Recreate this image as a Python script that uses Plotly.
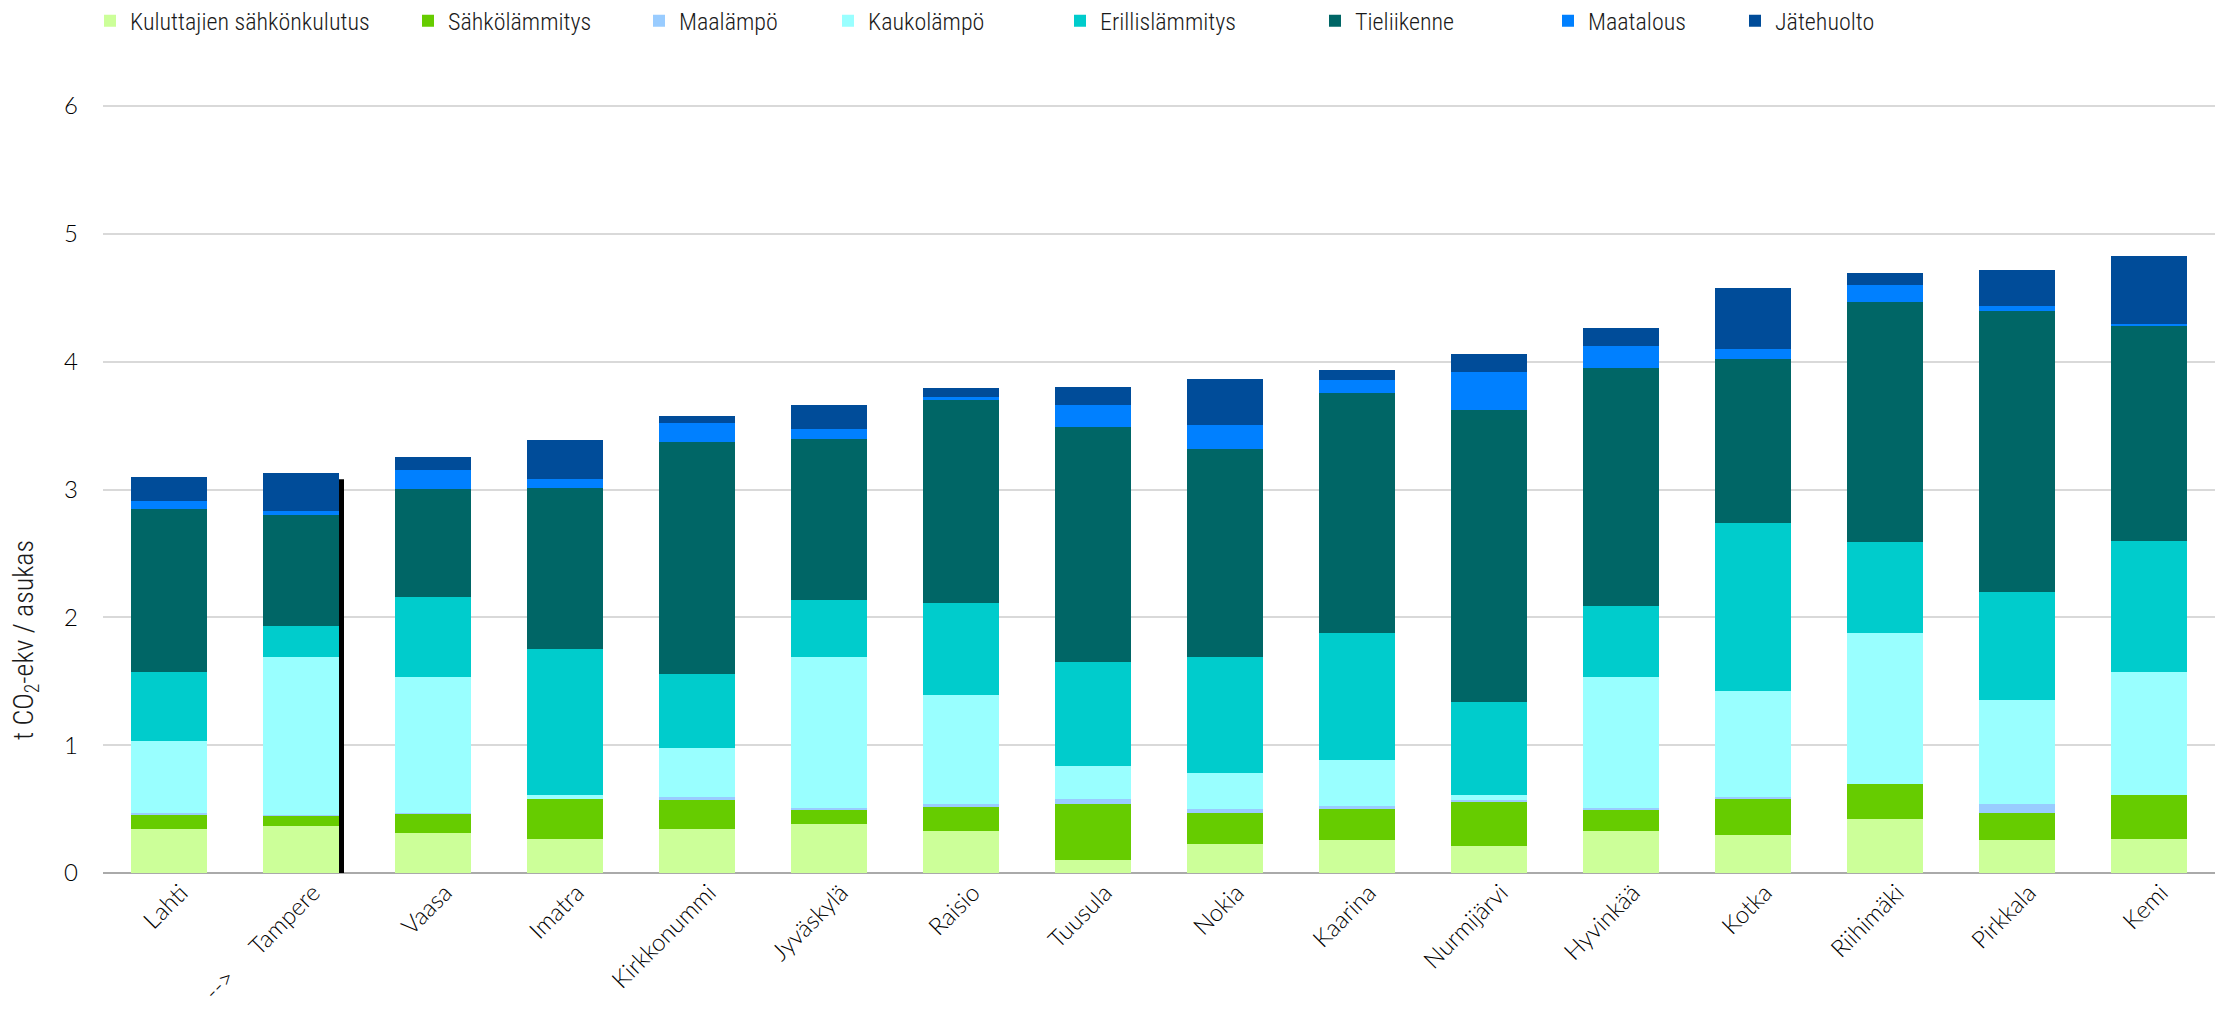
import plotly.graph_objects as go

# Municipalities, ordered by total emissions per resident
kunnat = ["Lahti", "-->     Tampere", "Vaasa", "Imatra", "Kirkkonummi", "Jyväskylä",
          "Raisio", "Tuusula", "Nokia", "Kaarina", "Nurmijärvi", "Hyvinkää",
          "Kotka", "Riihimäki", "Pirkkala", "Kemi"]

# Emission sectors (t CO2-ekv / asukas)
kuluttajien_sahkonkulutus = [0.345, 0.371, 0.310, 0.268, 0.348, 0.380, 0.332, 0.105,
                             0.224, 0.256, 0.214, 0.332, 0.300, 0.425, 0.256, 0.268]
sahkolammitys = [0.112, 0.076, 0.156, 0.313, 0.221, 0.118, 0.192, 0.438,
                 0.242, 0.242, 0.339, 0.166, 0.281, 0.268, 0.217, 0.339]
maalampo = [0.013, 0.010, 0.007, 0.000, 0.028, 0.010, 0.013, 0.038,
            0.032, 0.029, 0.022, 0.013, 0.010, 0.000, 0.070, 0.000]
kaukolampo = [0.559, 1.230, 1.064, 0.026, 0.384, 1.185, 0.859, 0.253,
              0.288, 0.355, 0.038, 1.026, 0.831, 1.182, 0.808, 0.962]
erillislammitys = [0.540, 0.243, 0.620, 1.144, 0.572, 0.441, 0.713, 0.815,
                   0.901, 0.993, 0.722, 0.549, 1.313, 0.713, 0.844, 1.025]
tieliikenne = [1.278, 0.869, 0.846, 1.259, 1.818, 1.259, 1.591, 1.837,
               1.629, 1.879, 2.285, 1.863, 1.284, 1.878, 2.201, 1.690]
maatalous = [0.060, 0.032, 0.147, 0.076, 0.147, 0.080, 0.022, 0.172,
             0.186, 0.102, 0.297, 0.172, 0.080, 0.131, 0.039, 0.013]
jatehuolto = [0.189, 0.297, 0.102, 0.301, 0.054, 0.185, 0.070, 0.141,
              0.361, 0.077, 0.141, 0.141, 0.476, 0.096, 0.281, 0.527]

sarjat = [
    ("Kuluttajien sähkönkulutus", kuluttajien_sahkonkulutus, "#CCFF99"),
    ("Sähkölämmitys", sahkolammitys, "#66CC00"),
    ("Maalämpö", maalampo, "#99CCFF"),
    ("Kaukolämpö", kaukolampo, "#99FFFF"),
    ("Erillislämmitys", erillislammitys, "#00CCCC"),
    ("Tieliikenne", tieliikenne, "#006666"),
    ("Maatalous", maatalous, "#0080FF"),
    ("Jätehuolto", jatehuolto, "#004C99"),
]

# Left edge (px) of each legend entry along the top row
legend_x_px = [90, 408, 639, 828, 1060, 1315, 1548, 1735]

W, H = 2219, 1009
M_L, M_R, M_T, M_B = 103, 4, 103, 136
tick_font = dict(family="Lato, Noto Sans, sans-serif", size=24, color="#000000", weight=300)
narrow_font = "Liberation Sans Narrow, Arial Narrow, Roboto Condensed, sans-serif"

fig = go.Figure()
for i, (nimi, arvot, vari) in enumerate(sarjat):
    fig.add_trace(go.Bar(x=kunnat, y=arvot, name=nimi, showlegend=True,
                         legend="legend" if i == 0 else f"legend{i + 1}",
                         marker=dict(color=vari, line=dict(width=0))))

# Drop shadow behind the highlighted municipality's bar
korostettu = 1
yhteensa = sum(s[1][korostettu] for s in sarjat)
fig.add_shape(type="rect", layer="between", xref="x", yref="y",
              xsizemode="pixel", xanchor=korostettu, x0=-33, x1=43,
              y0=-0.025, y1=yhteensa - 0.047,
              fillcolor="#000000", line=dict(width=0))

legendit = {}
for i, px in enumerate(legend_x_px):
    key = "legend" if i == 0 else f"legend{i + 1}"
    legendit[key] = dict(visible=True, orientation="h", xref="container", yref="container",
                         x=px / W, xanchor="left", y=0.979, yanchor="middle",
                         font=dict(family=narrow_font, size=24, color="#1a1a1a", weight=300),
                         itemwidth=30, bgcolor="rgba(0,0,0,0)")

# Vertical axis title, placed as a rotated annotation left of the tick labels
plot_w = W - M_L - M_R
plot_h = H - M_T - M_B
fig.add_annotation(text="t CO<sub>2</sub>-ekv / asukas", textangle=-90,
                   xref="paper", yref="paper",
                   x=(25 - M_L) / plot_w, y=(H - M_B - 640) / plot_h,
                   xanchor="center", yanchor="middle", showarrow=False,
                   font=dict(family=narrow_font, size=28, color="#1a1a1a", weight=300))

fig.update_layout(
    width=W, height=H, showlegend=True,
    margin=dict(l=M_L, r=M_R, t=M_T, b=M_B, autoexpand=False),
    barmode="stack", bargap=0.424,
    plot_bgcolor="white", paper_bgcolor="white",
    xaxis=dict(type="category", tickangle=-45, tickfont=tick_font,
               showgrid=False, showline=False, ticks="",
               ticklabelstandoff=0, ticklabelshift=12),
    yaxis=dict(range=[0, 6.024], tickvals=[0, 1, 2, 3, 4, 5, 6], tickfont=tick_font,
               showgrid=True, gridcolor="#d9d9d9", gridwidth=1.5,
               zeroline=True, zerolinecolor="#aaaaaa", zerolinewidth=2,
               showline=False, ticks="", ticklabelstandoff=24),
    **legendit,
)

fig.write_html("out.html")
